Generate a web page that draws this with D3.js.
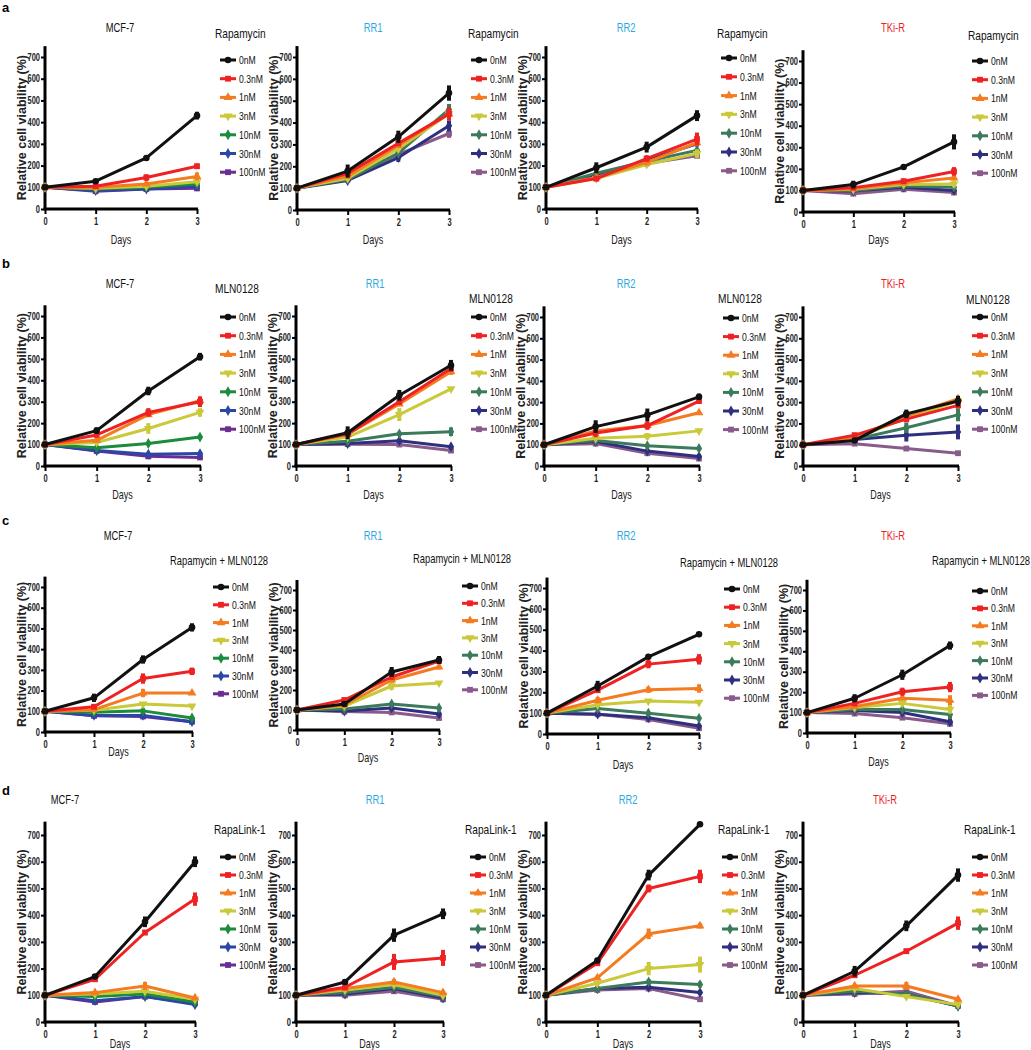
<!DOCTYPE html>
<html><head><meta charset="utf-8">
<script src="https://cdn.jsdelivr.net/npm/d3@7"></script>
<style>
body{margin:0;background:#fff;}
svg{display:block;}
text{font-family:'Liberation Sans',Arial,sans-serif;}
</style></head><body>
<svg id="c" width="1031" height="1050"></svg>
<script>
const days = [0, 1, 2, 3];
const doses = ["0nM", "0.3nM", "1nM", "3nM", "10nM", "30nM", "100nM"];
const cellLines = ["MCF-7", "RR1", "RR2", "TKi-R"];
const drugs = ["Rapamycin", "MLN0128", "Rapamycin + MLN0128", "RapaLink-1"];
const rowLetters = ["a", "b", "c", "d"];
const yTicks = [0, 100, 200, 300, 400, 500, 600, 700];

// ---- values (rows: doses, cols: days) ----
const aMCF7 = [[100,128,235,430],[100,105,145,197],[100,100,115,150],[100,95,105,125],[100,92,100,115],[100,85,92,105],[100,82,92,95]];
const aMCF7Err = [[0,8,8,18],[0,8,15,12],[0,5,8,18],[0,5,5,10],[0,4,5,8],[0,5,6,5],[0,5,5,6]];
const aRR1 = [[100,178,335,535],[100,168,305,440],[100,155,295,440],[100,145,280,440],[100,140,260,460],[100,135,240,385],[100,140,255,350]];
const aRR1Err = [[0,30,28,35],[0,10,10,30],[0,8,10,25],[0,8,10,15],[0,8,10,25],[0,8,20,25],[0,6,10,20]];
const aRR2 = [[100,190,285,430],[100,140,232,322],[100,145,215,305],[100,140,205,255],[100,165,220,270],[100,155,225,300],[100,150,210,245]];
const aRR2Err = [[0,25,25,25],[0,12,15,30],[0,8,15,15],[0,6,8,20],[0,6,6,8],[0,6,6,8],[0,5,6,6]];
const aTKI = [[100,127,209,325],[100,113,143,188],[100,108,135,158],[100,105,128,130],[100,100,120,115],[100,97,115,100],[100,85,105,90]];
const aTKIErr = [[0,18,8,35],[0,8,10,20],[0,6,8,10],[0,5,8,15],[0,6,8,10],[0,6,8,10],[0,6,10,8]];

const bMCF7 = [[100,165,350,510],[100,145,250,300],[100,120,240,305],[100,110,175,250],[100,85,105,135],[100,72,55,58],[100,70,45,40]];
const bMCF7Err = [[0,15,20,18],[0,8,20,25],[0,8,10,15],[0,6,25,20],[0,4,5,5],[0,5,5,6],[0,5,6,8]];
const bRR1 = [[100,155,330,470],[100,150,300,455],[100,148,290,440],[100,135,240,360],[100,115,150,160],[100,105,118,90],[100,102,100,72]];
const bRR1Err = [[0,30,25,25],[0,8,15,15],[0,6,10,15],[0,6,30,8],[0,5,8,20],[0,5,8,6],[0,5,8,6]];
const bRR2 = [[100,185,240,325],[100,155,190,305],[100,165,190,250],[100,130,140,165],[100,120,95,82],[100,115,70,45],[100,105,60,35]];
const bRR2Err = [[0,30,30,15],[0,20,20,8],[0,8,8,8],[0,6,15,6],[0,5,6,5],[0,5,6,8],[0,5,6,6]];
const bTKI = [[100,120,245,305],[100,145,220,285],[100,135,235,315],[100,130,225,305],[100,125,180,240],[100,125,145,160],[100,105,82,60]];
const bTKIErr = [[0,8,20,25],[0,8,10,15],[0,6,10,10],[0,6,8,8],[0,6,25,30],[0,6,30,35],[0,6,6,6]];

const cMCF7 = [[100,165,350,505],[100,122,258,293],[100,108,188,188],[100,105,135,125],[100,95,102,68],[100,80,80,50],[100,78,75,50]];
const cMCF7Err = [[0,20,20,20],[0,12,25,18],[0,8,20,8],[0,5,6,6],[0,5,6,6],[0,5,6,6],[0,5,6,6]];
const cRR1 = [[100,130,290,350],[100,150,265,345],[100,125,250,315],[100,120,220,235],[100,105,130,110],[100,95,110,80],[100,92,88,60]];
const cRR1Err = [[0,8,25,20],[0,8,10,15],[0,6,10,12],[0,6,20,6],[0,5,6,5],[0,5,6,8],[0,5,6,6]];
const cRR2 = [[100,230,370,478],[100,210,335,358],[100,162,212,218],[100,140,158,152],[100,122,100,75],[100,95,78,38],[100,95,70,28]];
const cRR2Err = [[0,25,6,6],[0,8,20,25],[0,15,15,20],[0,6,6,6],[0,5,6,6],[0,6,6,10],[0,5,6,6]];
const cTKI = [[100,170,285,428],[100,145,202,225],[100,130,170,160],[100,125,145,115],[100,115,115,90],[100,110,100,55],[100,95,75,45]];
const cTKIErr = [[0,20,25,20],[0,8,20,25],[0,6,8,25],[0,6,8,20],[0,6,8,20],[0,6,10,15],[0,5,8,8]];

const dMCF7 = [[100,170,375,600],[100,160,335,460],[100,110,135,90],[100,105,115,85],[100,95,105,75],[100,80,95,65],[100,75,95,70]];
const dMCF7Err = [[0,8,20,20],[0,8,10,25],[0,6,15,6],[0,5,6,6],[0,5,6,6],[0,5,6,6],[0,5,6,6]];
const dRR1 = [[100,150,325,405],[100,130,225,240],[100,125,150,110],[100,120,140,100],[100,110,130,95],[100,105,125,90],[100,100,115,85]];
const dRR1Err = [[0,10,25,20],[0,8,30,30],[0,6,10,8],[0,6,8,6],[0,5,8,6],[0,5,8,6],[0,5,8,6]];
const dRR2 = [[100,230,550,740],[100,220,500,545],[100,165,330,360],[100,145,200,215],[100,125,150,140],[100,125,130,110],[100,120,125,85]];
const dRR2Err = [[0,10,20,6],[0,8,15,25],[0,8,20,10],[0,6,25,30],[0,6,10,10],[0,5,8,8],[0,5,8,8]];
const dTKI = [[100,190,360,550],[100,175,265,370],[100,135,135,85],[100,125,95,65],[100,115,105,60],[100,110,105,60],[100,105,115,60]];
const dTKIErr = [[0,20,20,25],[0,8,10,25],[0,6,15,8],[0,6,8,6],[0,5,8,6],[0,5,8,6],[0,5,8,6]];

const panelValues = [[aMCF7,aRR1,aRR2,aTKI],[bMCF7,bRR1,bRR2,bTKI],[cMCF7,cRR1,cRR2,cTKI],[dMCF7,dRR1,dRR2,dTKI]];
const panelErrors = [[aMCF7Err,aRR1Err,aRR2Err,aTKIErr],[bMCF7Err,bRR1Err,bRR2Err,bTKIErr],[cMCF7Err,cRR1Err,cRR2Err,cTKIErr],[dMCF7Err,dRR1Err,dRR2Err,dTKIErr]];

// ---- styles ----
const brightColors = ["#111111","#ee2222","#f47b20","#c9c93a","#1a8c3c","#2b46a6","#6b2c94"];
const mutedColors  = ["#111111","#ee2222","#f47b20","#c9c93a","#3b7b5c","#2f2f80","#8a5a8a"];
const titleColors = {"MCF-7":"#111111","RR1":"#29a9e0","RR2":"#29a9e0","TKi-R":"#ee1c25"};
const symTypes = [d3.symbolCircle, d3.symbolSquare, d3.symbolTriangle, d3.symbolTriangle, d3.symbolDiamond, d3.symbolDiamond, d3.symbolSquare];
const symRot = [0,0,0,180,0,0,0];
const SX = 0.75; // horizontal condensing of the narrow typeface

// ---- layout (pixels) ----
const rowGeom = [
  { letterY: 12, titleY: 32, days: [244,244,244,244], legSize: 13.5,
    cols: [
      {ax:45, x3:197, y0:209, y7:57, titleX:120, legX:215, legTY:38, itX:220, itY:60, itD:18.7},
      {ax:297, x3:449, y0:210, y7:57, titleX:373, legX:468, legTY:38, itX:471, itY:60, itD:18.7},
      {ax:546, x3:697, y0:209, y7:57, titleX:626, legX:717, legTY:38, itX:721, itY:58, itD:18.8},
      {ax:803, x3:954, y0:212, y7:61, titleX:893, legX:968, legTY:40, itX:972, itY:61, itD:18.7}
    ]},
  { letterY: 268, titleY: 288, days: [499,499,499,499], legSize: 13.5,
    cols: [
      {ax:45, x3:200, y0:466, y7:316, titleX:120, legX:215, legTY:293, itX:220, itY:317, itD:18.7},
      {ax:296, x3:451, y0:466, y7:316, titleX:375, legX:469, legTY:303, itX:471, itY:317, itD:18.7},
      {ax:544, x3:699, y0:466, y7:317, titleX:626, legX:718, legTY:303, itX:723, itY:318, itD:18.6},
      {ax:803, x3:958, y0:466, y7:317, titleX:893, legX:966, legTY:304, itX:972, itY:317, itD:18.7}
    ]},
  { letterY: 525, titleY: 540, days: [756,762,769,766], legSize: 12.5,
    cols: [
      {ax:45, x3:192, y0:732, y7:587, titleX:118, legX:170, legTY:565, itX:213, itY:587, itD:17.8},
      {ax:297, x3:439, y0:730, y7:590, titleX:373, legX:413, legTY:563, itX:462, itY:586, itD:17.3},
      {ax:547, x3:699, y0:734, y7:588, titleX:626, legX:680, legTY:567, itX:724, itY:589, itD:18.2},
      {ax:807, x3:950, y0:733, y7:590, titleX:893, legX:932, legTY:565, itX:972, itY:591, itD:17.4}
    ]},
  { letterY: 795, titleY: 804, days: [1048,1048,1048,1048], legSize: 13.5,
    cols: [
      {ax:45, x3:195, y0:1022, y7:835, titleX:65, legX:214, legTY:834, itX:220, itY:857, itD:18},
      {ax:296, x3:443, y0:1022, y7:835, titleX:375, legX:465, legTY:834, itX:470, itY:857, itD:18},
      {ax:546, x3:700, y0:1022, y7:835, titleX:628, legX:718, legTY:834, itX:722, itY:857, itD:18},
      {ax:803, x3:958, y0:1022, y7:835, titleX:885, legX:964, legTY:834, itX:972, itY:857, itD:18}
    ]}
];

const svg = d3.select("#c");

// condensed text helper
function ntext(parent, x, y, str, size, opts = {}) {
  const g = parent.append("g").attr("transform", `translate(${x},${y}) scale(${SX},1)`);
  return g.append("text").attr("x", 0).attr("y", 0).attr("font-size", size)
    .attr("fill", opts.fill || "#111").attr("text-anchor", opts.anchor || "start")
    .attr("font-weight", opts.weight || "normal").text(str);
}

rowGeom.forEach((rg, r) => {
  svg.append("text").attr("x", 2).attr("y", rg.letterY)
    .attr("font-weight","bold").attr("font-size", 13).text(rowLetters[r]);

  rg.cols.forEach((g, c) => {
    const vals = panelValues[r][c];
    const errs = panelErrors[r][c];
    const colors = c === 0 ? brightColors : mutedColors;
    const x = d3.scaleLinear().domain([0, 3]).range([g.ax, g.x3]);
    const y = d3.scaleLinear().domain([0, 700]).range([g.y0, g.y7]);
    const p = svg.append("g");

    // title
    ntext(p, g.titleX, rg.titleY, cellLines[c], 12.5, {anchor:"middle", fill:titleColors[cellLines[c]]});

    // y axis
    const yAx = d3.axisLeft(y).tickValues(yTicks).tickSize(4).tickPadding(1);
    const yG = p.append("g").attr("transform", `translate(${g.ax},0)`).call(yAx);
    yG.select(".domain").remove();
    yG.selectAll(".tick line").attr("stroke","#000").attr("stroke-width",2);
    yG.selectAll(".tick text").attr("font-size",10).attr("font-weight","bold").attr("fill","#222")
      .attr("x", -5 / SX).attr("transform", `scale(${SX},1)`);
    p.append("line").attr("x1", g.ax).attr("x2", g.ax).attr("y1", y(750)).attr("y2", g.y0+1)
      .attr("stroke","#000").attr("stroke-width",3);

    // x axis
    const xAx = d3.axisBottom(x).tickValues(days).tickFormat(d3.format("d")).tickSize(5).tickPadding(4);
    const xG = p.append("g").attr("transform", `translate(0,${g.y0})`).call(xAx);
    xG.select(".domain").remove();
    xG.selectAll(".tick line").attr("stroke","#000").attr("stroke-width",2);
    xG.selectAll(".tick text").attr("font-size",10).attr("font-weight","bold").attr("fill","#222")
      .attr("transform", `scale(${SX},1)`);
    p.append("line").attr("x1", g.ax-1.5).attr("x2", g.x3+1).attr("y1", g.y0).attr("y2", g.y0)
      .attr("stroke","#000").attr("stroke-width",3);

    // axis titles
    p.append("text").attr("transform", `translate(${g.ax-19},${(g.y0+y(750))/2}) rotate(-90)`)
      .attr("text-anchor","middle").attr("font-weight","bold").attr("font-size", 12.5)
      .attr("fill","#222").text("Relative cell viability (%)");
    ntext(p, (g.ax+g.x3)/2, rg.days[c], "Days", 12, {anchor:"middle", fill:"#222"});

    // series (last dose drawn first so 0nM on top)
    const line = d3.line().x((d,i) => x(days[i])).y(d => y(d));
    for (let s = doses.length - 1; s >= 0; s--) {
      const col = colors[s];
      const sg = p.append("g");
      sg.append("path").datum(vals[s]).attr("d", line).attr("fill","none")
        .attr("stroke", col).attr("stroke-width", 3).attr("stroke-linejoin","round");
      sg.selectAll("line.err").data(vals[s]).join("line").attr("class","err")
        .attr("x1",(d,i)=>x(days[i])).attr("x2",(d,i)=>x(days[i]))
        .attr("y1",(d,i)=>y(d+errs[s][i])).attr("y2",(d,i)=>y(d-errs[s][i]))
        .attr("stroke", col).attr("stroke-width", 4);
      sg.selectAll("path.sym").data(vals[s]).join("path").attr("class","sym")
        .attr("d", d3.symbol().type(symTypes[s]).size(34))
        .attr("transform",(d,i)=>`translate(${x(days[i])},${y(d)}) rotate(${symRot[s]})`)
        .attr("fill", col);
    }

    // legend
    ntext(p, g.legX, g.legTY, drugs[r], rg.legSize);
    doses.forEach((dname, s) => {
      const ly = g.itY + s * g.itD;
      const col = colors[s];
      p.append("line").attr("x1", g.itX).attr("x2", g.itX+16).attr("y1", ly).attr("y2", ly)
        .attr("stroke", col).attr("stroke-width", 3);
      p.append("path").attr("d", d3.symbol().type(symTypes[s]).size(34))
        .attr("transform", `translate(${g.itX+8},${ly}) rotate(${symRot[s]})`).attr("fill", col);
      ntext(p, g.itX+19, ly+4, dname, 11.5);
    });
  });
});
</script>
</body></html>
